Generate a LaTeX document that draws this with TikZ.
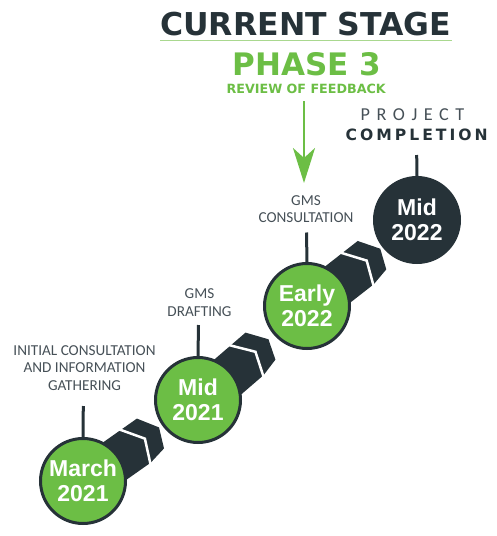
\documentclass[tikz,border=0pt]{standalone}
\usepackage{fontspec}
\setmainfont{Liberation Sans}
\newfontfamily\heavy{DejaVu Sans}
\newfontfamily\carl{Carlito}
\usetikzlibrary{arrows.meta}
\definecolor{dk}{HTML}{263238}
\definecolor{gr}{HTML}{6CBE45}
\definecolor{lg}{HTML}{A9D88F}
\definecolor{tx}{HTML}{465057}
\newcommand\stageband[2]{%
  \pgfmathanglebetweenpoints{\pgfpointanchor{#1}{center}}{\pgfpointanchor{#2}{center}}%
  \let\bandang\pgfmathresult
  \begin{scope}[shift={(#1)},rotate=\bandang]
    \fill[dk] (0,-20) -- (80,-20) -- (93,0) -- (85,20) -- (66,24) -- (0,24) -- cycle;
    \draw[white,line width=2.5pt,line join=miter] (58.9,-22) -- (75,1) -- (64.5,26);
  \end{scope}}
\begin{document}
\begin{tikzpicture}[x=1pt,y=-1pt,
  stage/.style={circle,draw=dk,line width=3pt,minimum size=85pt,inner sep=0pt,
    align=center,text=white,font=\bfseries\fontsize{23}{25}\selectfont},
  greenstage/.style={stage,fill=gr},
  darkstage/.style={stage,fill=dk},
  pinline/.style={dk,line width=3pt},
  label/.style={anchor=north,inner sep=0pt,align=center,text=tx,
    font=\carl\fontsize{15.2}{17.8}\selectfont},
  feedarrow/.style={gr,line width=2.7pt,-{Stealth[length=35pt,width=22pt,inset=10pt]}}
]
\useasboundingbox (0,0) rectangle (497,536);

% centres
\coordinate (c1) at (83,481);
\coordinate (c2) at (198,400);
\coordinate (c3) at (307,306);
\coordinate (c4) at (417,220);

% bands
\stageband{c1}{c2}
\stageband{c2}{c3}
\stageband{c3}{c4}

% circles
\node[greenstage] (m1) at (c1) {March\\2021};
\node[greenstage] (m2) at (c2) {Mid\\2021};
\node[greenstage] (m3) at (c3) {Early\\2022};
\node[darkstage]  (m4) at (c4) {Mid\\2022};

% pins
\coordinate (p1) at (83.3,406);
\coordinate (p2) at (198.5,325);
\coordinate (p3) at (306.5,232.5);
\coordinate (p4) at (416.7,155);
\draw[pinline] (p1) -- (m1.north);
\draw[pinline] (p2) -- (m2.north);
\draw[pinline] (p3) -- (m3.north);
\draw[pinline] (p4) -- (m4.north);

% labels
\node[label] (l1) at (84.5,345) {INITIAL CONSULTATION\\AND INFORMATION\\GATHERING};
\node[label] (l2) at (199.5,288.5) {GMS\\DRAFTING};
\node[label] (l3) at (306,195) {GMS\\CONSULTATION};

% headings
\node[anchor=base,inner sep=0pt,text=dk,font=\heavy\bfseries\fontsize{31.5}{34}\selectfont] (cs) at (305.8,35) {CURRENT STAGE};
\draw[lg,line width=1.2pt] (160,40.5) -- (452,40.5);
\node[anchor=base,inner sep=0pt,text=gr,font=\heavy\bfseries\fontsize{31}{34}\selectfont] (ph) at (307.2,75) {PHASE 3};
\node[anchor=base,inner sep=0pt,text=gr,font=\heavy\bfseries\fontsize{12.7}{14}\selectfont] (rv) at (306.2,93.3) {REVIEW OF FEEDBACK};

\coordinate (a0) at (304,101);
\coordinate (a1) at (304,183);
\draw[feedarrow] (a0) -- (a1);

\node[anchor=base,inner sep=0pt,text=tx,font=\carl\fontsize{18.2}{20}\selectfont] (pj) at (412.5,120)
  {P\kern6.5pt R\kern6.5pt O\kern6.5pt J\kern6.5pt E\kern6.5pt C\kern6.5pt T};
\node[anchor=base,inner sep=0pt,text=dk,font=\heavy\bfseries\fontsize{15.6}{18}\selectfont] (cp) at (416.7,140.7)
  {C\kern3pt O\kern3pt M\kern3pt P\kern3pt L\kern3pt E\kern3pt T\kern3pt I\kern3pt O\kern3pt N};
\end{tikzpicture}
\end{document}
